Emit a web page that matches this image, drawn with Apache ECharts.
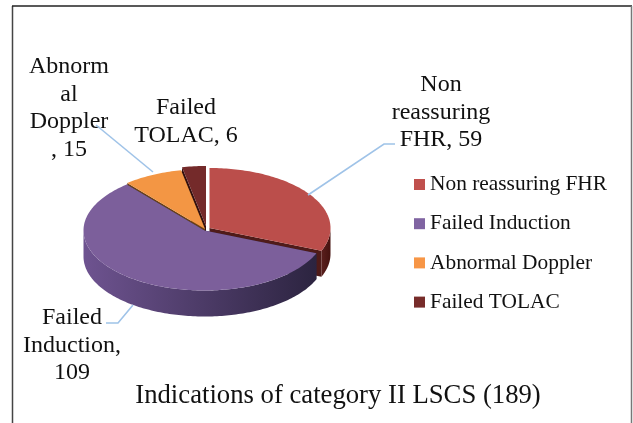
<!DOCTYPE html>
<html><head><meta charset="utf-8">
<style>html,body{margin:0;padding:0;background:#fff}#c{width:633px;height:423px}</style>
<script src="https://cdn.jsdelivr.net/npm/echarts@6/dist/echarts.min.js"></script>
</head><body><div id="c"></div>
<script>
const categories = ['Non reassuring FHR','Failed Induction','Abnormal Doppler','Failed TOLAC'];
const values = [59,109,15,6];
const colors = ['#c0504d','#8064a2','#f79646','#772c2a'];
const faceColors = ['#bb4e4b','#7c5f9b','#f39644','#742a2a'];
const labelLines = [['Non','reassuring','FHR, 59'],['Failed','Induction,','109'],['Abnorm','al','Doppler',', 15'],['Failed','TOLAC, 6']];
const titleText = 'Indications of category II LSCS (189)';

const FONT = '"Liberation Serif","Times New Roman",serif';
const RX = 121, RY = 60, DEPTH = 26;
const total = values.reduce((a,b)=>a+b,0);
const centres = [[209.5,228],[204.5,230.5],[205,229],[206,226]];
const zs = [3,4,2,1];
const wallColors = ['#4f1b19','#2e2640','#6b4115','#33100f'];
const sideGrad = [
  ['#5a1f1d','#45120f'],['#6e5390','#2c2440'],['#6b4115','#6b4115'],['#33100f','#33100f']
];
const labelPos = [[441,85],[72,318],[69,67],[186,108]];
const leaders = [[[308,195],[384,144],[395,144]],[[133,305],[118,323],[106,323]],[[153,172],[96,125]],null];

function pt(c,a,dy){return [c[0]+RX*Math.sin(a), c[1]-RY*Math.cos(a)+(dy||0)];}
function arc(c,a0,a1,dy){
  const out=[]; const n=Math.max(2,Math.ceil((a1-a0)/0.02));
  for(let i=0;i<=n;i++) out.push(pt(c,a0+(a1-a0)*i/n,dy));
  return out;
}
function renderSlice(i){
  return function(params,api){
    const v = api.value(0);
    const before = values.slice(0,i).reduce((a,b)=>a+b,0);
    const a0 = before/total*2*Math.PI, a1=(before+v)/total*2*Math.PI;
    const c = centres[i], kids=[];
    [a0,a1].forEach(a=>{
      const p=pt(c,a);
      kids.push({type:'polygon',shape:{points:[c,p,[p[0],p[1]+DEPTH],[c[0],c[1]+DEPTH]]},
        style:{fill:wallColors[i]}});
    });
    const s=Math.max(a0,Math.PI/2), e=Math.min(a1,Math.PI*1.5);
    if(e>s){
      const top=arc(c,s,e,0), bot=arc(c,s,e,DEPTH).reverse();
      kids.push({type:'polygon',shape:{points:top.concat(bot)},style:{
        fill:{type:'linear',x:0,y:0,x2:1,y2:0,colorStops:[
          {offset:0,color:sideGrad[i][0]},
          {offset:1,color:sideGrad[i][1]}]}}});
    }
    kids.push({type:'polygon',shape:{points:[c].concat(arc(c,a0,a1,0))},
      style:{fill:faceColors[i]}});
    if(leaders[i]) kids.push({type:'polyline',shape:{points:leaders[i]},
      style:{stroke:'#9fc3e8',lineWidth:1.6,fill:null},z2:30});
    labelLines[i].forEach((t,k)=>{
      kids.push({type:'text',x:labelPos[i][0],y:labelPos[i][1]+k*27.6,z2:20,
        style:{text:t,fill:'#111',font:'24px '+FONT,align:'center',verticalAlign:'middle'}});
    });
    return {type:'group',children:kids};
  };
}
const chart = echarts.init(document.getElementById('c'),null,{renderer:'canvas'});
chart.setOption({
  animation:false,
  backgroundColor:'#fff',
  title:{text:titleText,left:333,top:377,textAlign:'center',
    textStyle:{fontFamily:FONT,fontSize:26.7,fontWeight:'normal',color:'#111'}},
  legend:{orient:'vertical',left:409,top:169,itemWidth:11,itemHeight:11,itemGap:18.2,icon:'rect',
    data:categories,selectedMode:false,
    textStyle:{fontFamily:FONT,fontSize:21.4,color:'#111',height:18,lineHeight:18}},
  graphic:[
    {type:'line',shape:{x1:12.5,y1:6,x2:12.5,y2:423},style:{stroke:'#444',lineWidth:1.5},silent:true},
    {type:'line',shape:{x1:12,y1:6,x2:632,y2:6},style:{stroke:'#222',lineWidth:1.5},silent:true},
    {type:'line',shape:{x1:631.5,y1:6,x2:631.5,y2:423},style:{stroke:'#777',lineWidth:1.5},silent:true}
  ],
  series: categories.map((name,i)=>({
    type:'custom',name,coordinateSystem:'none',z:zs[i],silent:true,
    itemStyle:{color:colors[i]},
    data:[[values[i]]],renderItem:renderSlice(i)
  }))
});
</script></body></html>
